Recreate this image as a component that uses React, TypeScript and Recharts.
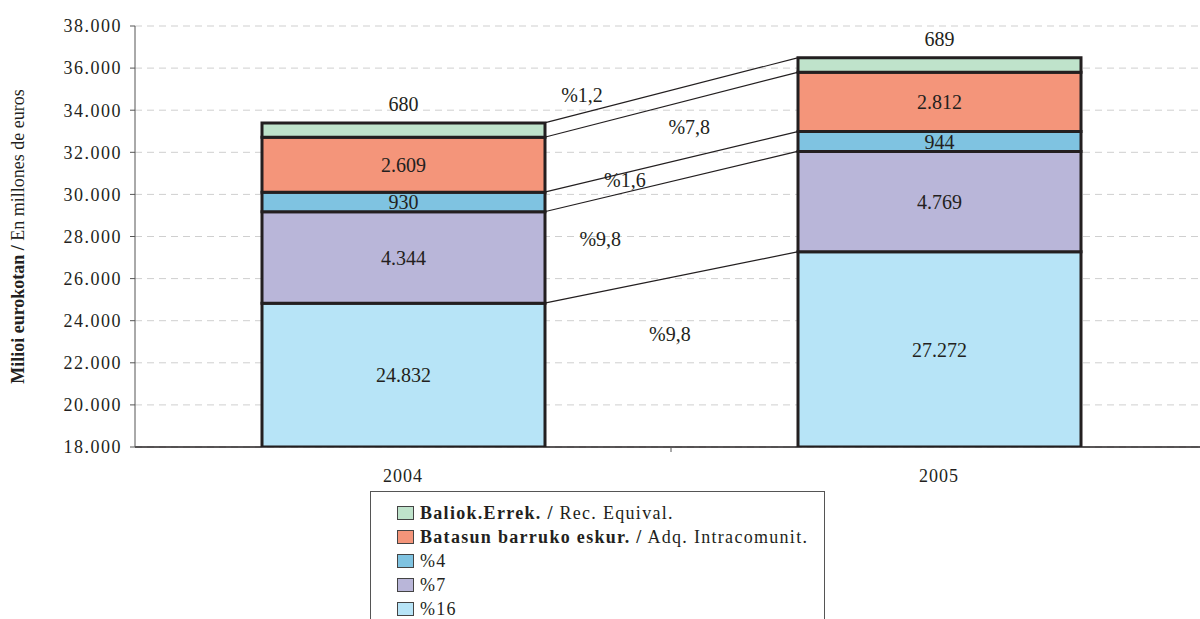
import React from 'react';
import {
  BarChart,
  Bar,
  XAxis,
  YAxis,
  CartesianGrid,
  LabelList,
  ReferenceLine,
  ReferenceDot,
  Label,
} from 'recharts';

// values in millions of euros
const years = ['2004', '2005'];
const yearPos = [0.5, 1.5];
const iva16 = [24832, 27272];
const iva7 = [4344, 4769];
const iva4 = [930, 944];
const intraEU = [2609, 2812];
const recEquiv = [680, 689];

const yTicks = [18000, 20000, 22000, 24000, 26000, 28000, 30000, 32000, 34000, 36000, 38000];

// growth labels between the bars (x on the 0..2 axis, y in data units)
const growthText = ['%1,2', '%7,8', '%1,6', '%9,8', '%9,8'];
const growthX = [0.834, 1.034, 0.914, 0.868, 0.998];
const growthY = [34722, 33202, 30684, 27881, 23368];

const FONT = '"Liberation Serif", "Times New Roman", serif';
const INK = '#231f20';

const CHART_W = 1210;
const CHART_H = 619;
const Y_W = 135;
const MARGIN = { top: 26, right: 3, left: 0, bottom: 142 };
const PLOT_W = CHART_W - MARGIN.right - MARGIN.left - Y_W;
const BAR_HALF = 0.264; // half bar width in x-axis units
const BAR_SIZE = Math.round(BAR_HALF * 2 * (PLOT_W / 2));

const series = [
  { key: 'iva16', values: iva16, color: '#b7e4f7', bold: '', label: '%16' },
  { key: 'iva7', values: iva7, color: '#b9b6d9', bold: '', label: '%7' },
  { key: 'iva4', values: iva4, color: '#7fc3e1', bold: '', label: '%4' },
  { key: 'intra', values: intraEU, color: '#f4957a', bold: 'Batasun barruko eskur. /', label: ' Adq. Intracomunit.' },
  { key: 'rec', values: recEquiv, color: '#bfe3cb', bold: 'Baliok.Errek. /', label: ' Rec. Equival.' },
];

const data = years.map((year, i) => {
  const row: any = { year, pos: yearPos[i] };
  series.forEach((s) => {
    row[s.key] = s.values[i];
  });
  return row;
});

// cumulative tops of each segment, used for the connector lines
const tops = series.map((_, si) =>
  years.map((__, yi) => series.slice(0, si + 1).reduce((acc, s) => acc + s.values[yi], 0))
);

const fmt = (v: number) => String(v).replace(/\B(?=(\d{3})+(?!\d))/g, '.');

const XTick = (props: any) => {
  const { x, y, payload } = props;
  const idx = yearPos.indexOf(payload.value);
  if (idx < 0) {
    return <line x1={x} y1={y} x2={x} y2={y + 5} stroke="#555" strokeWidth={1} />;
  }
  return (
    <text x={x} y={y + 35} textAnchor="middle" fontFamily={FONT} fontSize={18} letterSpacing={1} fill={INK}>
      {years[idx]}
    </text>
  );
};

const YLabel = (props: any) => {
  const vb = props.viewBox || {};
  const x = (vb.x || 0) + 18;
  const y = (vb.y || 0) + (vb.height || 0) / 2;
  return (
    <text
      x={x}
      y={y}
      transform={`rotate(-90, ${x}, ${y})`}
      textAnchor="middle"
      dominantBaseline="central"
      fontFamily={FONT}
      fontSize={18}
      fill={INK}
    >
      <tspan fontWeight="bold">Milioi eurokotan /</tspan>
      <tspan> En millones de euros</tspan>
    </text>
  );
};

const LegendBox = () => (
  <div
    style={{
      position: 'absolute',
      left: 370,
      top: 491,
      width: 455,
      height: 150,
      border: '1px solid #555',
      boxSizing: 'border-box',
      paddingTop: 9,
      paddingLeft: 26,
      fontFamily: FONT,
      fontSize: 18,
      letterSpacing: 1.3,
      color: INK,
      background: '#fff',
    }}
  >
    {[...series].reverse().map((s) => (
      <div key={s.key} style={{ height: 24, display: 'flex', alignItems: 'center' }}>
        <span
          style={{
            display: 'inline-block',
            width: 15,
            height: 12,
            background: s.color,
            border: '1px solid #444',
            marginRight: 6,
          }}
        />
        <span style={{ whiteSpace: 'pre' }}>
          {s.bold && <b>{s.bold}</b>}
          {s.label}
        </span>
      </div>
    ))}
  </div>
);

export default function App() {
  return (
    <div style={{ position: 'absolute', left: 0, top: 0, width: 1200, height: 619, overflow: 'hidden', background: '#fff' }}>
      <BarChart width={CHART_W} height={CHART_H} data={data} margin={MARGIN}>
        <CartesianGrid vertical={false} stroke="#cfcfcf" strokeDasharray="7 5" />
        <XAxis
          dataKey="pos"
          type="number"
          domain={[0, 2]}
          allowDataOverflow
          ticks={[0.5, 1, 1.5]}
          interval={0}
          tickSize={0}
          tickMargin={0}
          tickLine={false}
          tick={XTick}
          height={30}
          axisLine={{ stroke: INK, strokeWidth: 1.5 }}
        />
        <YAxis
          width={Y_W}
          domain={[18000, 38000]}
          allowDataOverflow
          ticks={yTicks}
          interval={0}
          tickSize={5}
          tickMargin={8}
          tickFormatter={fmt}
          axisLine={{ stroke: '#555' }}
          tickLine={{ stroke: '#555' }}
          tick={{ fontFamily: FONT, fontSize: 18, fill: INK, letterSpacing: 1.5 }}
        >
          <Label content={YLabel} />
        </YAxis>
        {series.map((s, i) => (
          <Bar
            key={s.key}
            dataKey={s.key}
            stackId="a"
            barSize={BAR_SIZE}
            fill={s.color}
            stroke={INK}
            strokeWidth={3}
            isAnimationActive={false}
          >
            <LabelList
              dataKey={s.key}
              position={i === series.length - 1 ? 'top' : 'center'}
              offset={12}
              formatter={(v: any) => fmt(Number(v))}
              fontFamily={FONT}
              fontSize={20}
              fill={INK}
            />
          </Bar>
        ))}
        {tops.map((t, i) => (
          <ReferenceLine
            key={`conn-${i}`}
            segment={[
              { x: yearPos[0] + BAR_HALF, y: t[0] },
              { x: yearPos[1] - BAR_HALF, y: t[1] },
            ]}
            stroke={INK}
            strokeWidth={1.2}
          />
        ))}
        {growthText.map((txt, i) => (
          <ReferenceDot
            key={`g-${i}`}
            x={growthX[i]}
            y={growthY[i]}
            r={0}
            fill="none"
            stroke="none"
            label={{ value: txt, position: 'center', fontFamily: FONT, fontSize: 20, fill: INK }}
          />
        ))}
      </BarChart>
      <LegendBox />
    </div>
  );
}
